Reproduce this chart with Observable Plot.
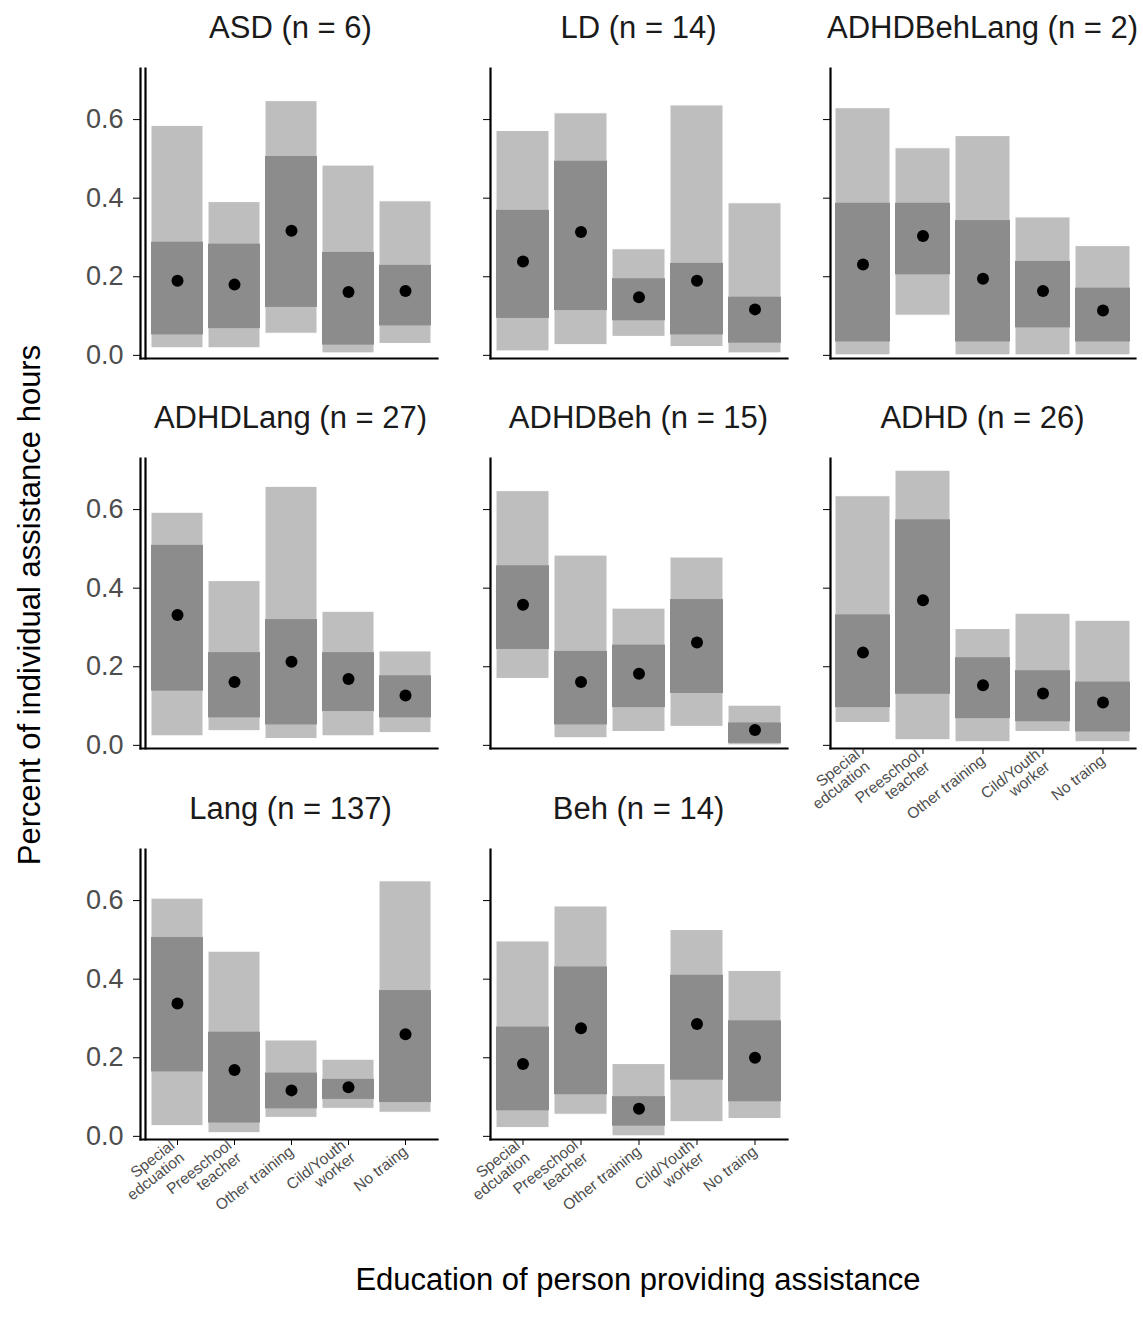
<!DOCTYPE html>
<html lang="en">
<head>
<meta charset="UTF-8">
<title>Assistance hours</title>
<script src="https://d3js.org/d3.v7.min.js"></script>
<script src="https://cdn.jsdelivr.net/npm/@observablehq/plot@0.6"></script>
<style>
  body { margin: 0; background: white; font-family: "Liberation Sans", Arial, sans-serif; }
  #page { position: relative; width: 1143px; height: 1321px; overflow: hidden; }
  .panel { position: absolute; }
  .title { position: absolute; font-size: 31px; color: #1a1a1a; white-space: nowrap; transform: translateX(-50%); }
  .lab { position: absolute; font-size: 31px; color: #000; white-space: nowrap; }
</style>
</head>
<body>
<div id="page"></div>
<script>
const categories = ["Special\nedcuation", "Preeschool\nteacher", "Other training", "Cild/Youth\nworker", "No traing"];
const panels = ["ASD", "LD", "ADHDBehLang", "ADHDLang", "ADHDBeh", "ADHD", "Lang", "Beh"];
const ns = [6, 14, 2, 27, 15, 26, 137, 14];

// outer range (low / high), inner band (q1 / q3), median dot
const low = [
  [0.018, 0.018, 0.055, 0.005, 0.029],
  [0.010, 0.026, 0.047, 0.021, 0.005],
  [0.000, 0.101, 0.000, 0.000, 0.000],
  [0.023, 0.036, 0.016, 0.023, 0.031],
  [0.169, 0.018, 0.034, 0.047, 0.000],
  [0.057, 0.013, 0.008, 0.034, 0.008],
  [0.026, 0.008, 0.047, 0.070, 0.060],
  [0.021, 0.055, 0.000, 0.036, 0.044]
];
const high = [
  [0.584, 0.390, 0.647, 0.483, 0.392],
  [0.571, 0.616, 0.270, 0.636, 0.387],
  [0.629, 0.527, 0.558, 0.351, 0.278],
  [0.592, 0.418, 0.658, 0.340, 0.239],
  [0.647, 0.483, 0.348, 0.478, 0.101],
  [0.634, 0.699, 0.296, 0.335, 0.317],
  [0.605, 0.470, 0.244, 0.195, 0.649],
  [0.496, 0.585, 0.184, 0.525, 0.421]
];
const q1 = [
  [0.052, 0.068, 0.122, 0.026, 0.075],
  [0.094, 0.114, 0.088, 0.052, 0.031],
  [0.034, 0.205, 0.034, 0.070, 0.034],
  [0.138, 0.070, 0.052, 0.086, 0.070],
  [0.244, 0.052, 0.096, 0.132, 0.005],
  [0.096, 0.130, 0.068, 0.060, 0.034],
  [0.164, 0.034, 0.070, 0.094, 0.086],
  [0.065, 0.106, 0.026, 0.143, 0.088]
];
const q3 = [
  [0.288, 0.283, 0.506, 0.262, 0.229],
  [0.369, 0.494, 0.195, 0.234, 0.148],
  [0.387, 0.387, 0.343, 0.239, 0.171],
  [0.509, 0.236, 0.320, 0.236, 0.177],
  [0.457, 0.239, 0.255, 0.371, 0.057],
  [0.332, 0.574, 0.223, 0.190, 0.161],
  [0.506, 0.265, 0.161, 0.145, 0.371],
  [0.278, 0.431, 0.101, 0.410, 0.294]
];
const med = [
  [0.190, 0.180, 0.317, 0.161, 0.164],
  [0.239, 0.314, 0.148, 0.190, 0.117],
  [0.231, 0.304, 0.195, 0.164, 0.114],
  [0.332, 0.161, 0.213, 0.169, 0.127],
  [0.358, 0.161, 0.182, 0.262, 0.039],
  [0.236, 0.369, 0.153, 0.132, 0.109],
  [0.338, 0.169, 0.117, 0.125, 0.260],
  [0.184, 0.275, 0.070, 0.286, 0.200]
];

const page = document.getElementById("page");
const colLeft = [0, 440, 780];       // svg left
const colMargin = [140, 50, 50];     // marginLeft
const colWidth = [445, 355, 363];
const rowTop = [60, 450, 841];
const plotH = 290;
const withXLabels = [false, false, false, false, false, true, true, true];

panels.forEach((name, i) => {
  const col = i % 3, row = Math.floor(i / 3);
  const data = categories.map((c, j) => ({
    cat: c, lo: low[i][j], hi: high[i][j], q1: q1[i][j], q3: q3[i][j], med: med[i][j]
  }));
  const showX = withXLabels[i];
  const mb = showX ? 120 : 10;
  const ml = colMargin[col];
  const plot = Plot.plot({
    width: colWidth[col],
    height: 8 + plotH + mb,
    marginLeft: ml,
    marginRight: 8,
    marginTop: 8,
    marginBottom: mb,
    style: { background: "transparent", fontFamily: "Liberation Sans, Arial, sans-serif", overflow: "visible" },
    x: { domain: categories, padding: 0.08, insetLeft: col === 0 ? 5 : 0, label: null, axis: null },
    y: { domain: [-0.008, 0.73], label: null, axis: null },
    marks: [
      Plot.barY(data, { x: "cat", y1: "lo", y2: "hi", fill: "#bebebe", stroke: "white", strokeWidth: 1 }),
      Plot.barY(data, { x: "cat", y1: "q1", y2: "q3", fill: "#8c8c8c" }),
      Plot.dot(data, { x: "cat", y: "med", r: 6, fill: "black" }),
      Plot.axisY({
        ticks: [0, 0.2, 0.4, 0.6], tickSize: 7, tickFormat: col === 0 ? d3.format(".1f") : () => "",
        fontSize: 27, fill: "#4d4d4d", tickPadding: 10, stroke: "#000", label: null
      }),
      Plot.frame({ anchor: "left", stroke: "black", strokeWidth: 2.2 }),
      ...(col === 0 ? [Plot.frame({ anchor: "left", dx: 5, stroke: "black", strokeWidth: 2.2 })] : []),
      Plot.frame({ anchor: "bottom", stroke: "black", strokeWidth: 2.2 }),
      ...(showX ? [Plot.axisX({
        tickSize: 6, tickRotate: -38, fontSize: 15.5, fill: "#4d4d4d", tickPadding: 4, textAnchor: "end", label: null
      })] : [])
    ]
  });
  const div = document.createElement("div");
  div.className = "panel";
  div.style.left = colLeft[col] + "px";
  div.style.top = rowTop[row] + "px";
  div.appendChild(plot);
  page.appendChild(div);

  const t = document.createElement("div");
  t.className = "title";
  t.textContent = `${name} (n = ${ns[i]})`;
  t.style.left = (colLeft[col] + ml + (colWidth[col] - ml - 8) / 2 + (col === 0 ? 2 : 0)) + "px";
  t.style.top = (rowTop[row] - 50) + "px";
  page.appendChild(t);
});

const yl = document.createElement("div");
yl.className = "lab";
yl.textContent = "Percent of individual assistance hours";
yl.style.left = "30px"; yl.style.top = "605px";
yl.style.transform = "translate(-50%, -50%) rotate(-90deg)";
page.appendChild(yl);

const xl = document.createElement("div");
xl.className = "lab";
xl.textContent = "Education of person providing assistance";
xl.style.left = "638px"; xl.style.top = "1280px";
xl.style.transform = "translate(-50%, -50%)";
page.appendChild(xl);
</script>
</body>
</html>
